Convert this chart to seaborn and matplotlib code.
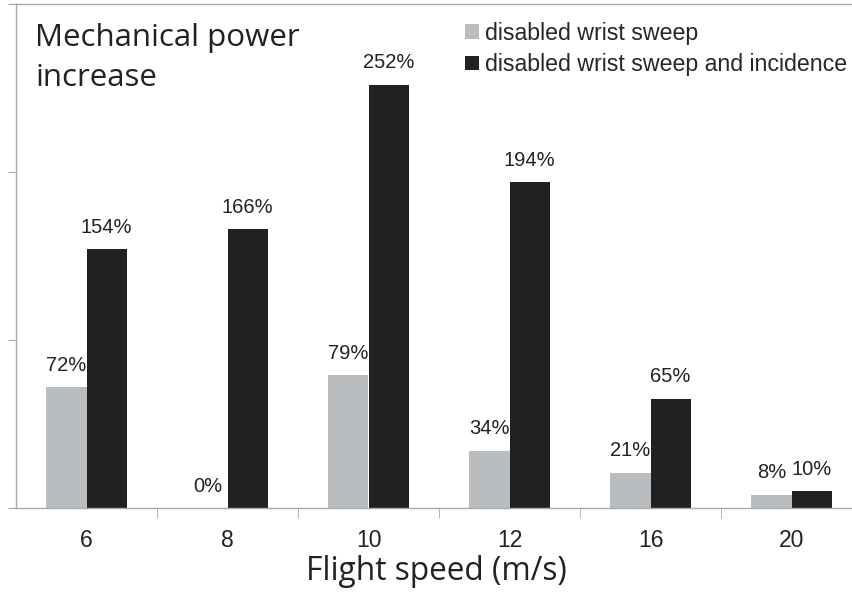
import pandas as pd
import numpy as np
import seaborn as sns
import matplotlib.pyplot as plt
from matplotlib.ticker import FixedLocator

# Data
speeds = ['6', '8', '10', '12', '16', '20']
wrist_sweep = [72, 0, 79, 34, 21, 8]
sweep_incidence = [154, 166, 252, 194, 65, 10]
series_names = ['disabled wrist sweep', 'disabled wrist sweep and incidence']

df = pd.DataFrame({
    'speed': speeds * 2,
    'increase': wrist_sweep + sweep_incidence,
    'condition': [series_names[0]] * len(speeds) + [series_names[1]] * len(speeds),
})

sns.set_style('white')
plt.rcParams['font.family'] = ['Liberation Sans', 'DejaVu Sans']

fig = plt.figure(figsize=(8.52, 5.94), dpi=100)
ax = fig.add_axes([16 / 852, 1 - 508 / 594, 846 / 852, 504 / 594])

sns.barplot(data=df, x='speed', y='increase', hue='condition',
            palette=['#b9bdbf', '#212121'], saturation=1, width=0.57,
            linewidth=0, ax=ax)

for cont in ax.containers:
    vals = [int(round(b.get_height())) for b in cont]
    ax.bar_label(cont, labels=[f'{v}%' for v in vals], padding=9,
                 fontsize=14.5, color='#222222')

ax.set_xlim(-0.5, len(speeds) - 0.5)
ax.set_ylim(0, 300)
ax.set_yticks([0, 100, 200, 300])
ax.set_yticklabels([])
ax.xaxis.set_minor_locator(FixedLocator(np.arange(0.5, len(speeds) - 0.5, 1)))
ax.tick_params(axis='x', which='major', length=0, pad=15, labelsize=16.5,
               labelcolor='#222222')
ax.tick_params(axis='x', which='minor', bottom=True, length=7, color='#aaaaaa',
               direction='out')
ax.tick_params(axis='y', left=True, length=6, color='#aaaaaa', direction='out')

for side in ['left', 'bottom', 'top']:
    ax.spines[side].set_color('#aaaaaa')
    ax.spines[side].set_linewidth(1)
ax.spines['right'].set_visible(False)

ax.set_ylabel('')
ax.set_xlabel('Flight speed (m/s)', fontsize=22.8, family=['Open Sans', 'DejaVu Sans'],
              color='#222222')
ax.xaxis.set_label_coords((436 - 16) / 846, -(555 - 508) / 504)

fig.text(35 / 852, 1 - 23 / 594, 'Mechanical power\nincrease', fontsize=22.5,
         family=['Open Sans', 'DejaVu Sans'], va='top', ha='left',
         linespacing=1.45, color='#222222')

handles, labels = ax.get_legend_handles_labels()
ax.legend(handles, labels, loc='upper left', bbox_to_anchor=(465 / 852, 1 - 22 / 594),
          bbox_transform=fig.transFigure, frameon=False, fontsize=16.7,
          handlelength=0.6, handleheight=0.6, handletextpad=0.25,
          labelspacing=0.35, borderpad=0, borderaxespad=0)

fig.savefig('out.png', dpi=100)
plt.close(fig)
